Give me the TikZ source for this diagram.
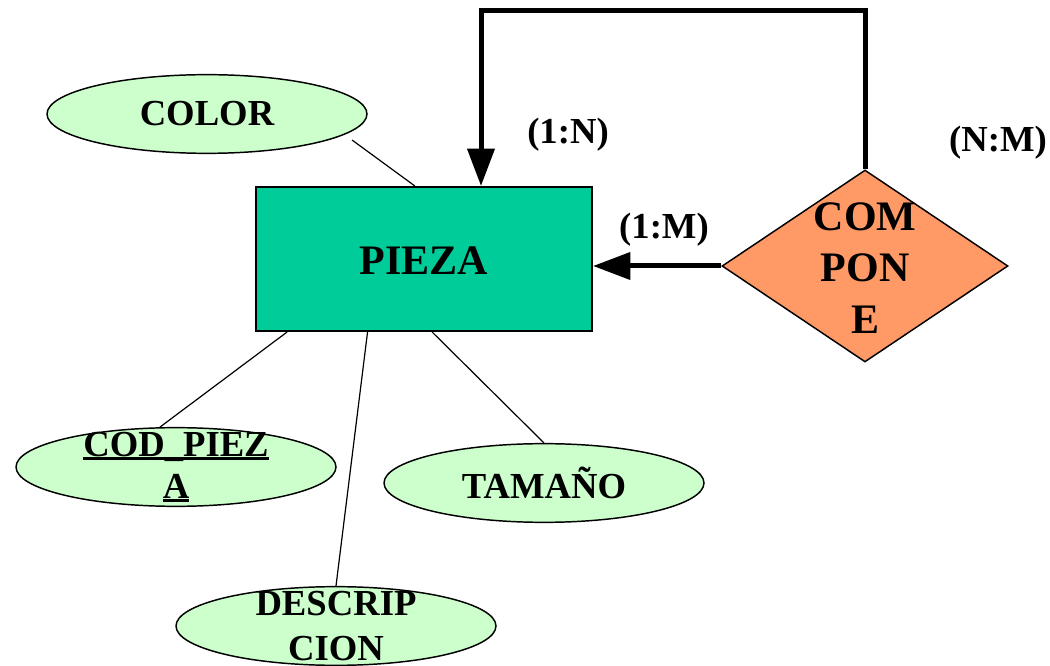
\documentclass[tikz,border=0pt]{standalone}
\usepackage{fontspec}
\setmainfont{Liberation Serif}
\usetikzlibrary{shapes.geometric,arrows.meta,calc}
\definecolor{entityfill}{RGB}{0,204,153}
\definecolor{attrfill}{RGB}{204,255,204}
\definecolor{relfill}{RGB}{255,153,102}
\newcommand{\keyline}[1]{\setbox0\hbox{#1}\rlap{\rule[-3.2pt]{\wd0}{2.2pt}}\box0}
\begin{document}
\begin{tikzpicture}[x=0.75pt,y=-0.75pt,
  entity/.style={draw=black,line width=1.5pt,fill=entityfill,rectangle,
    minimum width=252pt,minimum height=108pt,inner sep=0pt},
  attr/.style={draw=black,line width=1.1pt,fill=attrfill,ellipse,
    minimum width=240pt,minimum height=59pt,inner sep=0pt},
  rel/.style={draw=black,line width=1.1pt,fill=relfill,diamond,
    minimum width=214.5pt,minimum height=144pt,inner sep=0pt},
  lbl/.style={font=\fontsize{27.5}{31.5}\selectfont\bfseries,align=center,inner sep=0pt},
  big/.style={font=\fontsize{31.5}{38.5}\selectfont\bfseries,align=center,inner sep=0pt},
  link/.style={draw=black,line width=0.9pt},
  card/.style={draw=black,line width=3.75pt,line join=miter,
    -{Triangle[length=28pt,width=20pt]}},
]
\useasboundingbox (0,0) rectangle (1050,666);

% entity
\node[entity] (pieza) at (424,259) {};
\node[big] (piezat) at (424,261) {PIEZA};

% attributes
\node[attr] (color) at (207,114) {};
\node[lbl] (colort) at (color) {COLOR};
\node[attr] (codp) at (176,467) {};
\node[lbl] (codpt) at (176,467) {\keyline{COD\_PIEZ}\\\keyline{A}};
\node[attr] (tam) at (544,483) {};
\node[lbl] (tamt) at (tam) {TAMAÑO};
\node[attr] (desc) at (336,626) {};
\node[lbl,font=\fontsize{27.5}{34}\selectfont\bfseries] (desct) at (336,626) {DESCRIP\\CION};

% relationship
\node[rel] (comp) at (865,266) {};
\node[big] (compt) at (865,268) {COM\\PON\\E};

% attribute links
\draw[link] ([shift={(145,26)}]color.center) -- ($(pieza.north west)!0.473!(pieza.north east)$);
\draw[link] (codp.112) -- ($(pieza.south west)!0.095!(pieza.south east)$);
\draw[link] (desc.north) -- ($(pieza.south west)!0.333!(pieza.south east)$);
\draw[link] (tam.north) -- ($(pieza.south west)!0.524!(pieza.south east)$);

% relationship links
\coordinate (loop) at (481,11);
\draw[card] (comp.north) |- (loop) -- (loop |- pieza.north);
\draw[card] (comp.west) -- (comp.west -| pieza.east);

% cardinalities
\node[lbl] (c1n) at (568,135) {(1:N)};
\node[lbl] (cnm) at (998,143) {(N:M)};
\node[lbl] (c1m) at (664,230) {(1:M)};
\end{tikzpicture}
\end{document}
